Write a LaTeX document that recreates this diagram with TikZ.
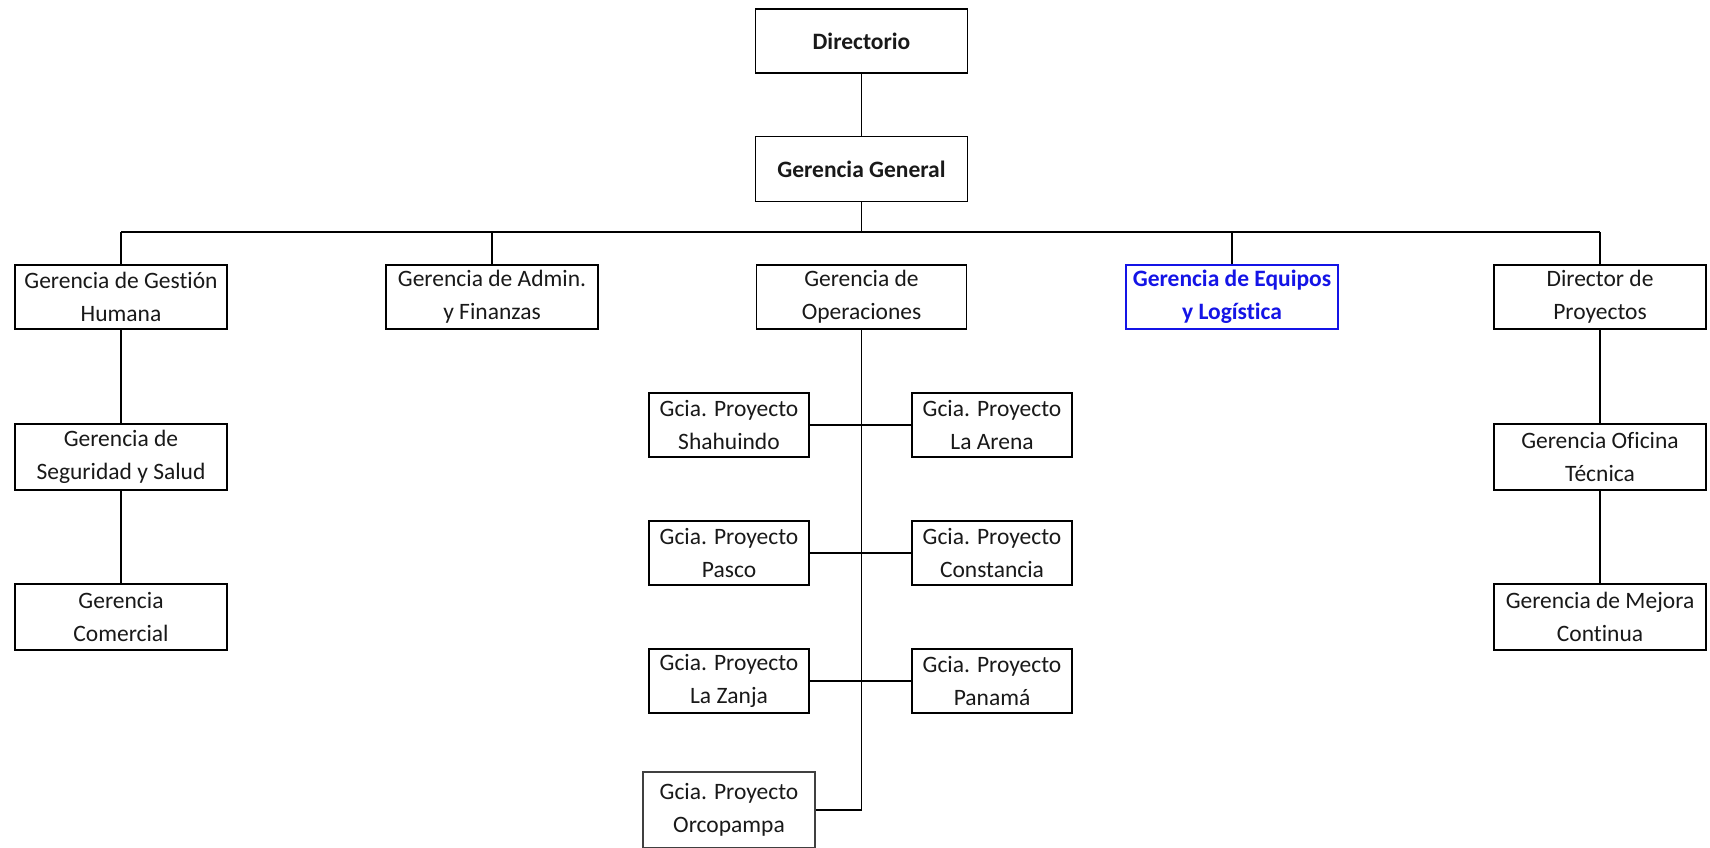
\documentclass[tikz,border=0pt]{standalone}
\usepackage{fontspec}
\setmainfont{Carlito}[Ligatures=NoCommon]
\definecolor{eqblue}{RGB}{20,20,230}
\tikzset{
  orgbox/.style={draw=black, line width=1.8pt, fill=white, align=center, inner sep=0pt,
    font=\fontsize{23.5}{33}\selectfont, text=black!90},
  boldtxt/.style={font=\fontsize{23.5}{33}\selectfont\bfseries},
  wide/.style={minimum width=212pt, minimum height=64pt},
  proj/.style={minimum width=160pt, minimum height=64pt},
  link/.style={line width=1.8pt, draw=black}
}
\begin{document}
\begin{tikzpicture}[x=1pt,y=-1pt]
\useasboundingbox (0,0) rectangle (1710,848);
\clip (0,0) rectangle (1710,848);
% top
\node[orgbox,wide,boldtxt] (dir) at (861.5,41) {Directorio};
\node[orgbox,wide,minimum height=65pt,boldtxt] (gg) at (861.5,169) {Gerencia General};
% first level
\node[orgbox,wide] (gh) at (121,297) {Gerencia de Gestión\\Humana};
\node[orgbox,wide] (adm) at (492,297) {Gerencia de Admin.\\y Finanzas};
\node[orgbox,wide,minimum width=210pt] (ope) at (861.5,297) {Gerencia de\\Operaciones};
\node[orgbox,wide,draw=eqblue,text=eqblue,boldtxt] (equ) at (1232,297) {Gerencia de Equipos\\y Logística};
\node[orgbox,wide] (dp) at (1600,297) {Director de\\Proyectos};
% left column
\node[orgbox,wide,minimum height=66pt] (seg) at (121,457) {Gerencia de\\Seguridad y Salud};
\node[orgbox,wide,minimum height=66pt] (com) at (121,617) {Gerencia\\Comercial};
% right column
\node[orgbox,wide,minimum height=66pt] (ofi) at (1600,457) {Gerencia Oficina\\Técnica};
\node[orgbox,wide,minimum height=66pt] (mej) at (1600,617) {Gerencia de Mejora\\Continua};
% projects
\node[orgbox,proj] (p1) at (729,425) {Gcia. Proyecto\\Shahuindo};
\node[orgbox,proj] (p2) at (992,425) {Gcia. Proyecto\\La Arena};
\node[orgbox,proj] (p3) at (729,553) {Gcia. Proyecto\\Pasco};
\node[orgbox,proj] (p4) at (992,553) {Gcia. Proyecto\\Constancia};
\node[orgbox,proj] (p5) at (729,681) {Gcia. Proyecto\\La Zanja};
\node[orgbox,proj] (p6) at (992,681) {Gcia. Proyecto\\Panamá};
\node[orgbox,minimum width=172pt,minimum height=76pt,draw=black!75] (p7) at (729,810) {Gcia. Proyecto\\Orcopampa};
% connectors
\coordinate (busL) at (121,232);
\coordinate (busR) at (1600,232);
\draw[link] (dir.south) -- (gg.north);
\draw[link] (gg.south) -- (gg.south |- busL);
\draw[link] (busL) -- (busR);
\foreach \n in {gh,adm,equ,dp}{\draw[link] (\n.north) -- (\n.north |- busL);}
\draw[link] (gh.south) -- (seg.north);
\draw[link] (seg.south) -- (com.north);
\draw[link] (dp.south) -- (ofi.north);
\draw[link] (ofi.south) -- (mej.north);
\draw[link] (ope.south) -- (ope.south |- p7.east);
\draw[link] (p1.east) -- (p2.west);
\draw[link] (p3.east) -- (p4.west);
\draw[link] (p5.east) -- (p6.west);
\draw[link] (p7.east) -- (ope.south |- p7.east);
\end{tikzpicture}
\end{document}
